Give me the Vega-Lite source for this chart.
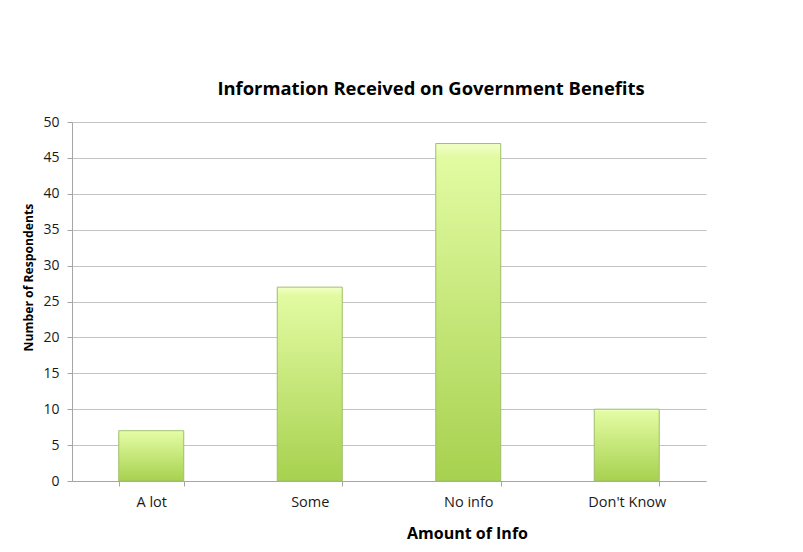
{
  "$schema": "https://vega.github.io/schema/vega-lite/v6.json",
  "width": 634,
  "height": 359,
  "autosize": {"type": "none"},
  "padding": {"left": 72, "top": 122, "right": 97, "bottom": 71},
  "background": "white",
  "config": {
    "view": {"stroke": null},
    "font": "Open Sans"
  },
  "title": {
    "text": "Information Received on Government Benefits",
    "fontSize": 18.4,
    "fontWeight": "bold",
    "font": "Open Sans",
    "color": "#000000",
    "anchor": "middle",
    "dx": 42,
    "offset": 17
  },
  "data": {
    "values": [
      {"category": "A lot", "count": 7},
      {"category": "Some", "count": 27},
      {"category": "No info", "count": 47},
      {"category": "Don't Know", "count": 10}
    ]
  },
  "mark": {
    "type": "bar",
    "stroke": "#9fbf6a",
    "strokeWidth": 1,
    "color": {
      "gradient": "linear",
      "x1": 0, "y1": 0, "x2": 0, "y2": 1,
      "stops": [
        {"offset": 0, "color": "#f2ffc8"},
        {"offset": 0.04, "color": "#e2fba2"},
        {"offset": 1, "color": "#a7d14f"}
      ]
    }
  },
  "encoding": {
    "x": {
      "field": "category",
      "type": "nominal",
      "sort": null,
      "scale": {"paddingInner": 0.59, "paddingOuter": 0.295},
      "axis": {
        "title": "Amount of Info",
        "titleFontSize": 16,
        "titleFontWeight": "bold",
        "titleColor": "#000000",
        "titleX": 395,
        "titleY": 52,
        "titleBaseline": "middle",
        "titleAlign": "center",
        "labelAngle": 0,
        "labelFontSize": 14.5,
        "labelColor": "#1a1a1a",
        "labelPadding": 9,
        "tickBand": "extent",
        "tickSize": 5,
        "tickColor": "#a6a6a6",
        "domainColor": "#a6a6a6",
        "grid": false
      }
    },
    "y": {
      "field": "count",
      "type": "quantitative",
      "scale": {"domain": [0, 50], "nice": false},
      "axis": {
        "title": "Number of Respondents",
        "titleFontSize": 12.2,
        "titleFontWeight": "bold",
        "titleColor": "#000000",
        "titleX": -44,
        "titleY": 155,
        "titleAlign": "center",
        "titleBaseline": "middle",
        "values": [0, 5, 10, 15, 20, 25, 30, 35, 40, 45, 50],
        "labelFontSize": 14,
        "labelColor": "#1a1a1a",
        "labelPadding": 8,
        "tickSize": 5,
        "tickColor": "#a6a6a6",
        "domainColor": "#a6a6a6",
        "gridColor": "#c3c3c3",
        "gridWidth": 1
      }
    }
  }
}
